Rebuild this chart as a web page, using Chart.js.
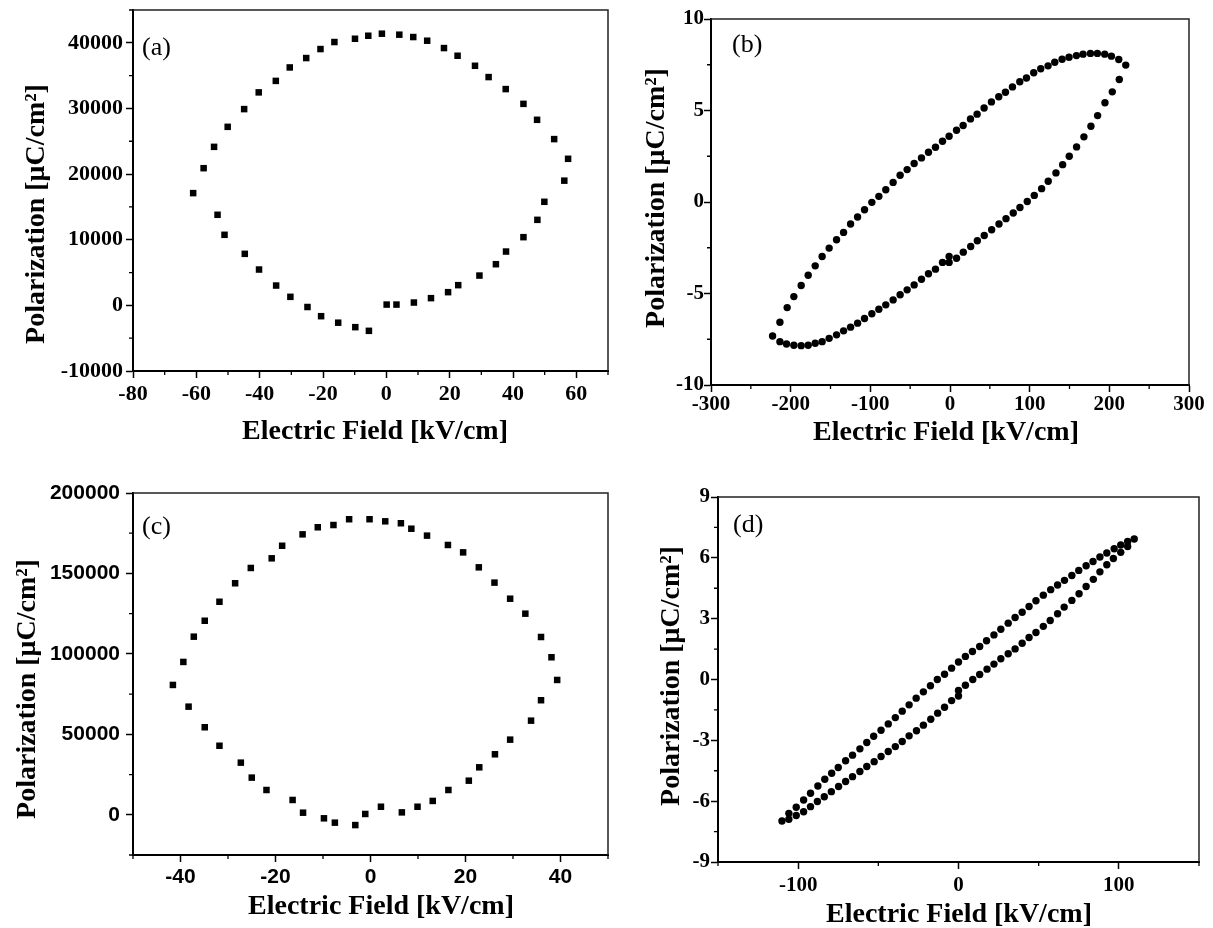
<!DOCTYPE html>
<html>
<head>
<meta charset="utf-8">
<script src="https://cdn.jsdelivr.net/npm/chart.js@4.4.1/dist/chart.umd.min.js"></script>
<style>
  body { margin: 0; background: #fff; }
  #wrap { position: relative; width: 1213px; height: 928px; overflow: hidden; }
  #wrap canvas { position: absolute; left: 0; top: 0; }
</style>
</head>
<body>
<div id="wrap">
  <canvas id="chartA" width="1213" height="928"></canvas>
  <canvas id="chartB" width="1213" height="928"></canvas>
  <canvas id="chartC" width="1213" height="928"></canvas>
  <canvas id="chartD" width="1213" height="928"></canvas>
</div>
<script>
const aField = [-61, -57.7, -54.4, -50.1, -44.9, -40.3, -34.9, -30.5, -25.3, -20.8, -16.4, -9.9, -5.7, -1.4, 4.1, 8.5, 12.9, 18.2, 22.5, 28, 32.3, 37.7, 43.3, 47.6, 53, 57.4,
                56.2, 49.9, 47.7, 43.3, 37.8, 34.6, 29.4, 22.7, 19.5, 14.1, 8.7, 3.2, 0.1, -5.5, -9.8, -15.2, -20.6, -24.9, -30.3, -34.8, -40.2, -44.7, -51.1, -53.3];
const aPol = [17100, 20900, 24150, 27200, 29900, 32450, 34200, 36250, 37680, 39050, 40120, 40620, 41080, 41390, 41240, 40880, 40320, 39200, 38030, 36500, 34780, 32950, 30700, 28270, 25330, 22330,
              19000, 15780, 13030, 10390, 8200, 6270, 4540, 3080, 2010, 1100, 430, 120, 120, -3880, -3320, -2640, -1650, -250, 1300, 3020, 5460, 7850, 10750, 13800];

const bField = [-222.7, -213.5, -204.4, -196, -186.8, -178, -169.2, -160.5, -151.7, -142.4, -133.6, -124.8, -116, -107.3, -98.1, -89.3, -80.6, -71.4, -62.6, -53.8,
                -45, -35.8, -27, -18.2, -9.4, -1.1, 8.2, 16.5, 25.7, 34, 42.8, 52, 61.2, 69.6, 78.4, 87.6, 96, 105.1, 113.9, 123.1, 131.5, 140.7, 149.4, 158.7, 167,
                176.3, 185, 194.2, 202.6, 211.8, 220.6,
                212.5, 203.7, 194.5, 185.3, 176.9, 168.1, 158.9, 149.7, 141.4, 133, 123.3, 115, 105.8, 97, 87.8, 79.4, 70.3, 61.5, 52.3, 43, 34.3, 26, 16.7, 8.2,
                -1.1, -1.1, -9.4, -18.2, -27, -35.8, -45, -53.8, -62.6, -71.4, -80.6, -89.3, -98.1, -107.3, -116, -124.8, -133.6, -142.4, -151.7, -160.5, -169.2,
                -178, -186.8, -196, -205.2, -213.5];
const bPol = [-7.32, -6.57, -5.77, -5.17, -4.56, -4.0, -3.49, -2.98, -2.52, -2.06, -1.66, -1.2, -0.82, -0.42, -0.02, 0.31, 0.67, 1.07, 1.46, 1.77,
              2.1, 2.41, 2.72, 2.99, 3.32, 3.59, 3.92, 4.18, 4.54, 4.8, 5.14, 5.47, 5.75, 6.0, 6.29, 6.57, 6.78, 7.06, 7.28, 7.44, 7.64, 7.8, 7.91, 8.0, 8.08,
              8.12, 8.12, 8.08, 7.97, 7.79, 7.48,
              6.69, 6.02, 5.42, 4.72, 4.14, 3.56, 3.01, 2.5, 2.04, 1.59, 1.13, 0.73, 0.36, 0.03, -0.3, -0.6, -0.91, -1.2, -1.52, -1.83, -2.12, -2.43, -2.74, -3.07,
              -2.98, -3.3, -3.3, -3.67, -3.92, -4.22, -4.53, -4.8, -5.07, -5.35, -5.62, -5.86, -6.11, -6.37, -6.62, -6.84, -7.04, -7.26, -7.45, -7.63, -7.72,
              -7.83, -7.85, -7.83, -7.76, -7.63];

const cField = [-41.6, -39.4, -37.2, -34.9, -31.8, -28.5, -25.2, -20.8, -18.6, -14.3, -11.1, -7.8, -4.5, -0.2, 3.1, 6.4, 8.6, 11.9, 16.3, 19.5, 22.8, 26.1, 29.4, 32.6, 35.9, 38.1, 39.3,
                35.9, 33.8, 29.4, 26.2, 22.9, 20.7, 16.4, 13.1, 9.9, 6.6, 2.2, -1.1, -3.2, -7.5, -9.8, -14.2, -16.4, -21.9, -25, -27.3, -31.8, -34.9, -38.3];
const cPol = [80700, 95000, 110700, 120600, 132400, 143900, 153400, 159400, 167200, 174300, 178700, 180100, 183700, 183700, 182400, 181200, 177800, 173500, 167700, 163100, 153800, 144300, 134300, 125000, 110500, 97900, 83800,
              71200, 58500, 46700, 37600, 29500, 21200, 15400, 8600, 5000, 1500, 5000, 500, -6400, -4900, -2200, 1300, 9200, 15400, 23100, 32400, 42900, 54400, 67200];

const dField = [-110.1, -105.8, -101.2, -96.6, -92.3, -87.7, -83.4, -79.1, -75, -70.4, -66.1, -61.5, -57.2, -52.9, -48.3, -43.8, -39.4, -35.1, -30.8, -26.4, -21.9, -17.5, -13.2,
                -8.7, -4.3, 0, 4.3, 8.7, 13.2, 17.5, 22.1, 26.4, 31, 35.3, 39.7, 44, 48.3, 52.9, 57.5, 61.8, 66.1, 70.7, 75, 79.6, 83.9, 88.2, 92.5, 97.1, 101.2, 105.5, 109.6,
                105.5, 101.2, 96.6, 92.5, 88.2, 84.1, 79.6, 75.2, 70.7, 65.9, 61.8, 57.2, 52.9, 48.3, 44, 39.7, 35.3, 31, 26.4, 22.1, 17.8, 13.2, 8.9, 4.3, 0, 0,
                -4.3, -8.7, -13, -17.3, -21.9, -26.2, -30.8, -35.1, -39.4, -43.8, -48.3, -52.6, -57.2, -61.5, -66.1, -70.4, -74.8, -79.3, -83.7, -88, -92.3, -96.6, -101.2, -105.8];
const dPol = [-6.98, -6.6, -6.3, -5.94, -5.61, -5.25, -4.92, -4.62, -4.34, -4.01, -3.73, -3.42, -3.11, -2.8, -2.5, -2.19, -1.88, -1.56, -1.25, -0.92, -0.61, -0.31, 0,
              0.26, 0.56, 0.86, 1.14, 1.38, 1.63, 1.91, 2.2, 2.48, 2.78, 3.06, 3.32, 3.6, 3.88, 4.16, 4.43, 4.66, 4.89, 5.13, 5.38, 5.61, 5.82, 6.04, 6.24, 6.45, 6.63, 6.81, 6.93,
              6.56, 6.27, 5.97, 5.66, 5.31, 4.94, 4.59, 4.23, 3.9, 3.57, 3.24, 2.91, 2.62, 2.32, 2.07, 1.79, 1.51, 1.27, 1.02, 0.76, 0.51, 0.25, 0, -0.28, -0.54, -0.81,
              -1.04, -1.37, -1.66, -1.96, -2.25, -2.53, -2.78, -3.06, -3.31, -3.55, -3.8, -4.05, -4.29, -4.54, -4.79, -5.03, -5.28, -5.53, -5.78, -6.02, -6.27, -6.52, -6.71, -6.89];

// tick values (labelled) and minor ticks
const aXTicks = [-80, -60, -40, -20, 0, 20, 40, 60];
const aXMinor = [-70, -50, -30, -10, 10, 30, 50, 70];
const aYTicks = [-10000, 0, 10000, 20000, 30000, 40000];
const aYMinor = [-5000, 5000, 15000, 25000, 35000, 45000];
const bXTicks = [-300, -200, -100, 0, 100, 200, 300];
const bXMinor = [-250, -150, -50, 50, 150, 250];
const bYTicks = [-10, -5, 0, 5, 10];
const bYMinor = [-7.5, -2.5, 2.5, 7.5];
const cXTicks = [-40, -20, 0, 20, 40];
const cXMinor = [-50, -30, -10, 10, 30, 50];
const cYTicks = [0, 50000, 100000, 150000, 200000];
const cYMinor = [-25000, 25000, 75000, 125000, 175000];
const dXTicks = [-100, 0, 100];
const dXMinor = [-150, -50, 50, 150];
const dYTicks = [-9, -6, -3, 0, 3, 6, 9];
const dYMinor = [-7.5, -4.5, -1.5, 1.5, 4.5, 7.5];

const xTitle = 'Electric Field [kV/cm]';
const yTitle = 'Polarization [\u03bcC/cm\u00b2]';

const W = 1213, H = 928;
const serif = '"Liberation Serif", "Times New Roman", serif';
const sans = '"Liberation Sans", Arial, sans-serif';

// draws the top/right frame, minor ticks, panel letter and axis titles
const panelDeco = {
    id: 'panelDeco',
    afterDraw(chart, args, o) {
        const ctx = chart.ctx;
        const a = chart.chartArea;
        const x = chart.scales.x, y = chart.scales.y;
        ctx.save();
        ctx.strokeStyle = '#222';
        ctx.lineWidth = 1.5;
        ctx.beginPath();
        ctx.moveTo(a.left, a.top);
        ctx.lineTo(a.right, a.top);
        ctx.lineTo(a.right, a.bottom);
        ctx.stroke();

        ctx.strokeStyle = '#000';
        ctx.lineWidth = 1.3;
        ctx.beginPath();
        o.xMinor.forEach(v => {
            const px = x.getPixelForValue(v);
            ctx.moveTo(px, a.bottom);
            ctx.lineTo(px, a.bottom + 4);
        });
        o.yMinor.forEach(v => {
            const py = y.getPixelForValue(v);
            ctx.moveTo(a.left, py);
            ctx.lineTo(a.left - 4, py);
        });
        ctx.stroke();

        ctx.fillStyle = '#000';
        ctx.textBaseline = 'middle';
        ctx.textAlign = 'left';
        ctx.font = '26px ' + serif;
        ctx.fillText(o.label, a.left + o.labelAt[0], a.top + o.labelAt[1]);

        ctx.textAlign = 'center';
        ctx.font = 'bold 28px ' + serif;
        ctx.fillText(xTitle, o.xTitleAt[0], o.xTitleAt[1]);
        ctx.translate(o.yTitleAt[0], o.yTitleAt[1]);
        ctx.rotate(-Math.PI / 2);
        ctx.fillText(yTitle, 0, 0);
        ctx.restore();
    }
};

function makePanel(canvasId, field, pol, p) {
    const [L, T, R, B] = p.box;
    const yBoxW = 100, xBoxH = 50;
    const points = field.map((v, i) => ({ x: v, y: pol[i] }));
    const tickFont = { family: p.tickFamily, size: p.tickSize, weight: 'bold', lineHeight: 1 };
    const grid = { drawOnChartArea: false, drawTicks: true, tickLength: 7, tickWidth: 1.5, tickColor: '#000' };
    const border = { display: true, color: '#000', width: 2 };

    return new Chart(document.getElementById(canvasId), {
        type: 'scatter',
        data: {
            datasets: [{
                data: points,
                pointStyle: p.marker,
                pointRadius: p.radius,
                pointHoverRadius: p.radius,
                backgroundColor: '#000',
                borderColor: '#000',
                borderWidth: 0
            }]
        },
        options: {
            responsive: false,
            animation: false,
            devicePixelRatio: 1,
            layout: { padding: { left: L - yBoxW, top: T, right: W - R, bottom: H - B - xBoxH } },
            plugins: {
                legend: { display: false },
                tooltip: { enabled: false },
                panelDeco: p.deco
            },
            scales: {
                x: {
                    type: 'linear',
                    min: p.xRange[0],
                    max: p.xRange[1],
                    afterBuildTicks: s => { s.ticks = p.xTicks.map(v => ({ value: v })); },
                    afterFit: s => { s.height = xBoxH; s.paddingLeft = 0; s.paddingRight = 0; },
                    grid: grid,
                    border: border,
                    ticks: { autoSkip: false, maxRotation: 0, padding: p.xPad, color: '#000', font: tickFont, callback: v => String(v) }
                },
                y: {
                    type: 'linear',
                    min: p.yRange[0],
                    max: p.yRange[1],
                    afterBuildTicks: s => { s.ticks = p.yTicks.map(v => ({ value: v })); },
                    afterFit: s => { s.width = yBoxW; s.paddingTop = 0; s.paddingBottom = 0; },
                    grid: grid,
                    border: border,
                    ticks: { autoSkip: false, padding: p.yPad, color: '#000', font: tickFont, callback: v => String(v) }
                }
            }
        },
        plugins: [panelDeco]
    });
}

makePanel('chartA', aField, aPol, {
    box: [133, 10, 608, 371], xRange: [-80, 70], yRange: [-10000, 45000],
    xTicks: aXTicks, yTicks: aYTicks, tickFamily: serif, tickSize: 22, xPad: 5, yPad: 3,
    marker: 'rect', radius: 4.6,
    deco: { xMinor: aXMinor, yMinor: aYMinor, label: '(a)', labelAt: [9, 38], xTitleAt: [375, 432], yTitleAt: [37, 214] }
});

makePanel('chartB', bField, bPol, {
    box: [711, 19, 1189, 385], xRange: [-300, 300], yRange: [-10, 10],
    xTicks: bXTicks, yTicks: bYTicks, tickFamily: serif, tickSize: 21, xPad: 2, yPad: 0,
    marker: 'circle', radius: 3.7,
    deco: { xMinor: bXMinor, yMinor: bYMinor, label: '(b)', labelAt: [21, 26], xTitleAt: [946, 433], yTitleAt: [657, 198] }
});

makePanel('chartC', cField, cPol, {
    box: [133, 493, 608, 855], xRange: [-50, 50], yRange: [-25000, 200000],
    xTicks: cXTicks, yTicks: cYTicks, tickFamily: sans, tickSize: 21, xPad: 5, yPad: 6,
    marker: 'rect', radius: 4.6,
    deco: { xMinor: cXMinor, yMinor: cYMinor, label: '(c)', labelAt: [9, 34], xTitleAt: [381, 907], yTitleAt: [28, 689] }
});

makePanel('chartD', dField, dPol, {
    box: [718, 497, 1199, 862], xRange: [-150, 150], yRange: [-9, 9],
    xTicks: dXTicks, yTicks: dYTicks, tickFamily: serif, tickSize: 21, xPad: 6, yPad: 1,
    marker: 'circle', radius: 3.7,
    deco: { xMinor: dXMinor, yMinor: dYMinor, label: '(d)', labelAt: [15, 28], xTitleAt: [959, 915], yTitleAt: [672, 676] }
});
</script>
</body>
</html>
